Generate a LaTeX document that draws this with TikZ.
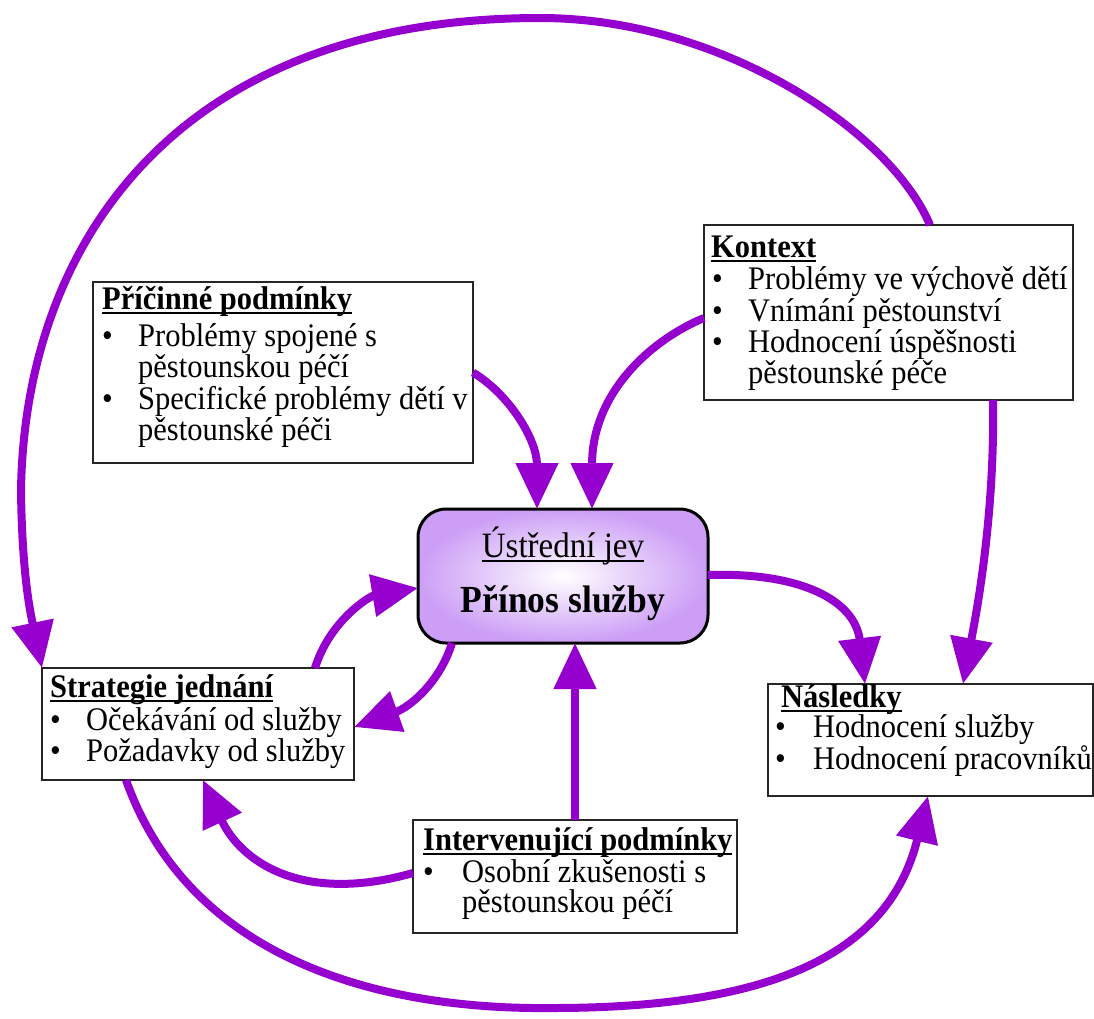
\documentclass[tikz,border=0pt]{standalone}
\usepackage{graphicx}
\usepackage{fontspec}
\setmainfont{Liberation Serif}
\usetikzlibrary{arrows.meta,calc}
\definecolor{arr}{RGB}{150,0,206}
\definecolor{vfill}{RGB}{204,158,246}
\newcommand{\ulin}[1]{\leavevmode\setbox0=\hbox{#1}\rlap{\rule[-4.2pt]{\wd0}{1.7pt}}\box0}
\newcommand{\bl}[2]{\leavevmode\makebox[#2][l]{\hspace*{#1}\textbullet}}
\newcommand{\tall}[1]{\scalebox{1}[1.08]{#1}}
\tikzset{
  box/.style={draw=black!85, line width=1.5pt, rectangle, inner sep=0pt, outer sep=0pt},
  central/.style={draw=black, line width=3pt, rounded corners=28pt, inner sep=0pt, outer sep=0pt,
    inner color=white, outer color=vfill},
  txt/.style={anchor=base west, inner sep=0pt, font=\fontsize{30.5pt}{27.1pt}\selectfont},
  flow/.style={draw=arr, line width=8pt, -{Triangle[length=46pt,width=41pt]}}
}
\begin{document}
\begin{tikzpicture}[x=1pt,y=-1pt]
\useasboundingbox (0,0) rectangle (1094,1018);
% boxes
\node[box, minimum width=380pt, minimum height=181pt] (pp) at (283,372.5) {};
\node[box, minimum width=369pt, minimum height=175pt] (kk) at (888.5,312.5) {};
\node[box, minimum width=312pt, minimum height=112pt] (sb) at (198,724) {};
\node[box, minimum width=325pt, minimum height=112pt] (nn) at (930.5,740) {};
\node[box, minimum width=324pt, minimum height=113pt] (ii) at (575,876.5) {};
\node[central, shade, minimum width=290pt, minimum height=134pt] (cc) at (563,576) {};
% texts
\node[txt] (pp-t) at (102,309) {\tall{\parbox[t]{370pt}{\ulin{\textbf{Příčinné podmínky}}\\[6.2pt]
\bl{0pt}{36pt}Problémy spojené s\\
\hspace*{36pt}pěstounskou péčí\\
\bl{0pt}{36pt}Specifické problémy dětí v\\
\hspace*{36pt}pěstounské péči}}};
\node[txt] (kk-t) at (711,257) {\tall{\parbox[t]{360pt}{\ulin{\textbf{Kontext}}\\[3.4pt]
\bl{1pt}{37pt}Problémy ve výchově dětí\\
\bl{1pt}{37pt}Vnímání pěstounství\\
\bl{1pt}{37pt}Hodnocení úspěšnosti\\
\hspace*{37pt}pěstounské péče}}};
\node[txt] (sb-t) at (50,697) {\tall{\parbox[t]{300pt}{\ulin{\textbf{Strategie jednání}}\\[1.6pt]
\bl{0pt}{36pt}Očekávání od služby\\
\bl{0pt}{36pt}Požadavky od služby}}};
\node[txt] (nn-t) at (781,707.5) {\tall{\parbox[t]{320pt}{\ulin{\textbf{Následky}}\\[-0.7pt]
\hspace*{-6pt}\bl{0pt}{38pt}Hodnocení služby\\
\hspace*{-6pt}\bl{0pt}{38pt}Hodnocení pracovníků}}};
\node[txt] (ii-t) at (423,850) {\tall{\parbox[t]{320pt}{\ulin{\textbf{Intervenující podmínky}}\\[1.6pt]
\bl{0pt}{39pt}Osobní zkušenosti s\\
\hspace*{39pt}pěstounskou péčí}}};
\node[anchor=base, inner sep=0pt, font=\fontsize{33pt}{33pt}\selectfont] (cc-t1) at (563,557) {\tall{\ulin{Ústřední jev}}};
\node[anchor=base, inner sep=0pt, font=\fontsize{35.5pt}{35pt}\selectfont\bfseries] (cc-t2) at (563,612) {\tall{Přínos služby}};
% connectors
\draw[flow] ([xshift=41.5pt]kk.north) .. controls (890,130) and (720,18) .. (540,18)
  .. controls (180,18) and (25,240) .. (21,490) .. controls (22,580) and (32,620) .. (sb.north west);
\draw[flow] ([xshift=-72pt]sb.south) .. controls (190,960) and (380,1010) .. (552,1008)
  .. controls (780,1008) and (890,950) .. ([xshift=-2.5pt]nn.south);
\draw[flow] (pp.east) .. controls (510,395) and (537,440) .. ([xshift=-26pt]cc.north);
\draw[flow] ([yshift=-5.5pt]kk.west) .. controls (655,338) and (592,390) .. ([xshift=29pt]cc.north);
\draw[flow] ([xshift=-111pt]cc.south) .. controls (440,682) and (410,707) .. ([yshift=-3pt]sb.east);
\draw[flow] ([xshift=117pt]sb.north) .. controls (330,620) and (370,596) .. ([yshift=-12pt]cc.west);
\draw[flow] (ii.north) -- (ii.north |- cc.south);
\draw[flow] ([yshift=3.5pt]ii.west) .. controls (300,905) and (240,860) .. ([xshift=5pt]sb.south);
\draw[flow] ([yshift=1pt]cc.east) .. controls (800,572) and (855,600) .. ([xshift=-65.5pt]nn.north);
\draw[flow] ([xshift=104.5pt]kk.south) .. controls (995,520) and (975,620) .. ([xshift=32.5pt]nn.north);
\end{tikzpicture}
\end{document}
